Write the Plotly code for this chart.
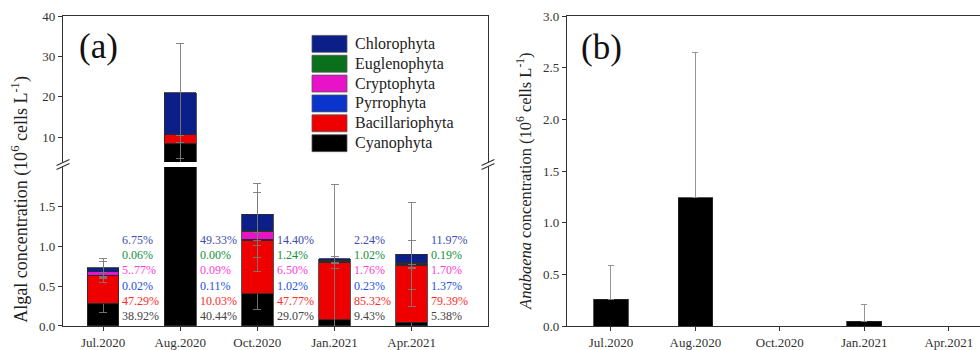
import plotly.graph_objects as go

# ---------------- data ----------------
months = ["Jul.2020", "Aug.2020", "Oct.2020", "Jan.2021", "Apr.2021"]

phyla = ["Cyanophyta", "Bacillariophyta", "Pyrrophyta", "Cryptophyta", "Euglenophyta", "Chlorophyta"]

# algal concentration (10^6 cells/L), per phylum, per month
cyanophyta      = [0.288, 8.50, 0.407, 0.079, 0.048]
bacillariophyta = [0.350, 2.10, 0.669, 0.717, 0.715]
pyrrophyta      = [0.0002, 0.023, 0.014, 0.002, 0.012]
cryptophyta     = [0.043, 0.019, 0.091, 0.015, 0.015]
euglenophyta    = [0.0004, 0.0, 0.017, 0.009, 0.002]
chlorophyta     = [0.050, 10.36, 0.202, 0.019, 0.108]

# standard deviations (drawn at top of each stacked segment)
cyanophyta_sd      = [0.12, 3.7, 0.20, 0.18, 0.23]
bacillariophyta_sd = [0.04, 7.8, 0.22, 0.07, 0.31]
pyrrophyta_sd      = [0.02, 0.1, 0.02, 0.01, 0.05]
cryptophyta_sd     = [0.13, 0.1, 0.50, 0.03, 0.06]
euglenophyta_sd    = [0.01, 0.0, 0.03, 0.02, 0.02]
chlorophyta_sd     = [0.12, 12.2, 0.39, 0.94, 0.65]

# percentage labels
pct_chlorophyta     = ["6.75%", "49.33%", "14.40%", "2.24%", "11.97%"]
pct_euglenophyta    = ["0.06%", "0.00%", "1.24%", "1.02%", "0.19%"]
pct_cryptophyta     = ["5..77%", "0.09%", "6.50%", "1.76%", "1.70%"]
pct_pyrrophyta      = ["0.02%", "0.11%", "1.02%", "0.23%", "1.37%"]
pct_bacillariophyta = ["47.29%", "10.03%", "47.77%", "85.32%", "79.39%"]
pct_cyanophyta      = ["38.92%", "40.44%", "29.07%", "9.43%", "5.38%"]

# Anabaena concentration (10^6 cells/L)
anabaena    = [0.26, 1.24, 0.0, 0.045, 0.0]
anabaena_sd = [0.33, 1.41, 0.0, 0.165, 0.0]

# ---------------- style ----------------
FONT = "Liberation Serif, Times New Roman, serif"
colors = {
    "Cyanophyta": "#000000",
    "Bacillariophyta": "#ee0000",
    "Pyrrophyta": "#0a34cc",
    "Cryptophyta": "#e812c8",
    "Euglenophyta": "#0a701c",
    "Chlorophyta": "#0c1e88",
}
text_colors = {
    "Chlorophyta": "#3c4cb0",
    "Euglenophyta": "#12913a",
    "Cryptophyta": "#ff3ad8",
    "Pyrrophyta": "#2250e6",
    "Bacillariophyta": "#ff2a2a",
    "Cyanophyta": "#444444",
}

W, H = 980, 350
MT, MB = 16, 22
PH = H - MT - MB


def px(x):
    return x / W


def py(y):
    return (H - MB - y) / PH


values = {
    "Cyanophyta": cyanophyta, "Bacillariophyta": bacillariophyta, "Pyrrophyta": pyrrophyta,
    "Cryptophyta": cryptophyta, "Euglenophyta": euglenophyta, "Chlorophyta": chlorophyta,
}
sds = {
    "Cyanophyta": cyanophyta_sd, "Bacillariophyta": bacillariophyta_sd, "Pyrrophyta": pyrrophyta_sd,
    "Cryptophyta": cryptophyta_sd, "Euglenophyta": euglenophyta_sd, "Chlorophyta": chlorophyta_sd,
}
pcts = {
    "Chlorophyta": pct_chlorophyta, "Euglenophyta": pct_euglenophyta, "Cryptophyta": pct_cryptophyta,
    "Pyrrophyta": pct_pyrrophyta, "Bacillariophyta": pct_bacillariophyta, "Cyanophyta": pct_cyanophyta,
}

fig = go.Figure()
xi = list(range(len(months)))

for xa, ya in (("x", "y"), ("x3", "y3")):
    for p in phyla:
        fig.add_trace(go.Bar(
            x=xi, y=values[p], name=p, xaxis=xa, yaxis=ya, width=0.41,
            marker=dict(color=colors[p], line=dict(color="#2a2a2a", width=0.8)),
            error_y=dict(type="data", array=sds[p], symmetric=True, color="#7a7a7a",
                         thickness=0.9, width=4),
            showlegend=False,
        ))

fig.add_trace(go.Bar(
    x=xi, y=anabaena, xaxis="x2", yaxis="y2", width=0.41,
    marker=dict(color="#000000", line=dict(color="#2a2a2a", width=0.8)),
    error_y=dict(type="data", array=anabaena_sd, symmetric=False, arrayminus=[0] * 5,
                 color="#8a8a8a", thickness=0.9, width=3),
    showlegend=False,
))

axis_common = dict(
    showline=True, linecolor="#333333", linewidth=1.3, ticks="outside", ticklen=4,
    tickcolor="#333333", tickfont=dict(family=FONT, size=13, color="#333333"),
    showgrid=False, zeroline=False,
)

XA = [px(63), px(488)]
XB = [px(567), 1.0]
fig.update_layout(
    width=W, height=H, margin=dict(l=0, r=0, t=MT, b=MB),
    paper_bgcolor="white", plot_bgcolor="white", barmode="stack",
    font=dict(family=FONT, color="#222222"),
    xaxis=dict(domain=XA, anchor="y", range=[-0.52, 4.99], tickmode="array",
               tickvals=xi, ticktext=months, **axis_common),
    yaxis=dict(domain=[0, py(168)], anchor="x", range=[0, 1.995], tickmode="array",
               tickvals=[0, 0.5, 1.0, 1.5], ticktext=["0.0", "0.5", "1.0", "1.5"],
               mirror=True, **axis_common),
    xaxis3=dict(domain=XA, anchor="y3", matches="x", side="top", showline=True,
                linecolor="#333333", linewidth=1.3, showticklabels=False, ticks="",
                showgrid=False, zeroline=False),
    yaxis3=dict(domain=[py(163), 1.0], anchor="x3", range=[3.85, 40], tickmode="array",
                tickvals=[10, 20, 30, 40], mirror=True, **axis_common),
    xaxis2=dict(domain=XB, anchor="y2", range=[-0.52, 4.37], tickmode="array",
                tickvals=xi, ticktext=months, mirror=True, **axis_common),
    yaxis2=dict(domain=[0, 1], anchor="x2", range=[0, 3.0], tickmode="array",
                tickvals=[0, 0.5, 1.0, 1.5, 2.0, 2.5, 3.0],
                ticktext=["0.0", "0.5", "1.0", "1.5", "2.0", "2.5", "3.0"], **axis_common),
)

shapes = []
# axis break marks
for sx in (63, 488):
    for yc in (163.5, 167.5):
        shapes.append(dict(type="line", xref="paper", yref="paper",
                           x0=px(sx - 6.5), y0=py(yc + 3), x1=px(sx + 6.5), y1=py(yc - 3),
                           line=dict(color="#333333", width=1.2)))

annotations = []
# legend (manual swatches)
legend_order = ["Chlorophyta", "Euglenophyta", "Cryptophyta", "Pyrrophyta", "Bacillariophyta", "Cyanophyta"]
for i, p in enumerate(legend_order):
    yc = 44 + 20 * i
    shapes.append(dict(type="rect", xref="paper", yref="paper",
                       x0=px(312), x1=px(347), y0=py(yc + 8.5), y1=py(yc - 8.5),
                       fillcolor=colors[p], line=dict(color="#555555", width=0.8)))
    annotations.append(dict(xref="paper", yref="paper", x=px(353), y=py(yc), text=p,
                            showarrow=False, xanchor="left", yanchor="middle",
                            font=dict(family=FONT, size=16, color="#222222")))

# percentage labels
rows = [241, 257, 272, 288, 303, 318]
for j, p in enumerate(legend_order):
    for i in xi:
        annotations.append(dict(xref="x", yref="paper", x=i + 0.225, y=py(rows[j]),
                                text=pcts[p][i], showarrow=False, xanchor="left",
                                yanchor="middle",
                                font=dict(family=FONT, size=12, color=text_colors[p])))

# panel labels
annotations.append(dict(xref="paper", yref="paper", x=px(98), y=py(47), text="(a)",
                        xanchor="center", yanchor="middle",
                        showarrow=False, font=dict(family=FONT, size=35, color="#111111")))
annotations.append(dict(xref="paper", yref="paper", x=px(601), y=py(48), text="(b)",
                        xanchor="center", yanchor="middle",
                        showarrow=False, font=dict(family=FONT, size=35, color="#111111")))

# axis titles
annotations.append(dict(xref="paper", yref="paper", x=px(20), y=py(201), textangle=-90,
                        xanchor="center", yanchor="middle",
                        text="Algal concentration (10<sup>6</sup> cells L<sup>-1</sup>)",
                        showarrow=False, font=dict(family=FONT, size=18, color="#222222")))
annotations.append(dict(xref="paper", yref="paper", x=px(525), y=py(183), textangle=-90,
                        xanchor="center", yanchor="middle",
                        text="<i>Anabaena</i> concentration (10<sup>6</sup> cells L<sup>-1</sup>)",
                        showarrow=False, font=dict(family=FONT, size=16.5, color="#222222")))

fig.update_layout(shapes=shapes, annotations=annotations)
fig.write_html(
    "out.html",
    config={"displayModeBar": False},
    post_script="document.body.style.margin='0';document.body.style.overflow='hidden';",
)
